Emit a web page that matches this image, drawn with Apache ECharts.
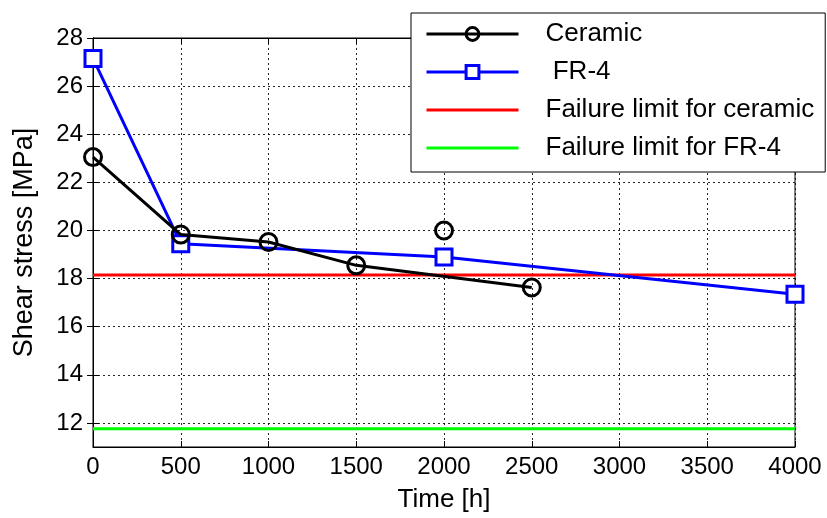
<!DOCTYPE html>
<html><head><meta charset="utf-8">
<script src="https://cdn.jsdelivr.net/npm/echarts@6/dist/echarts.min.js"></script>
<style>html,body{margin:0;padding:0;background:#fff}#c{width:827px;height:518px}</style>
</head><body><div id="c"></div>
<script>
// Data
const ceramicTime = [0, 500, 1000, 1500, 2500];
const ceramicStress = [23.05, 19.83, 19.52, 18.55, 17.63];
const ceramicExtraTime = [2000];
const ceramicExtraStress = [20.0];
const fr4Time = [0, 500, 2000, 4000];
const fr4Stress = [27.15, 19.45, 18.9, 17.35];
const limitTime = [0, 4000];
const ceramicLimit = 18.15;
const fr4Limit = 11.76;
const xTicks = [0, 500, 1000, 1500, 2000, 2500, 3000, 3500, 4000];
const yTicks = [12, 14, 16, 18, 20, 22, 24, 26, 28];

const pairs = (xs, ys) => xs.map((x, i) => [x, ys[i]]);
const FONT = 'Liberation Sans, Arial, sans-serif';
const chart = echarts.init(document.getElementById('c'));
const gridLine = {show: true, lineStyle: {color: '#000', width: 1, type: [2, 3], opacity: 0.85}};
const plain = v => String(v);
const lineIcon = 'path://M0,0H92V3H0Z';
chart.setOption({
  backgroundColor: '#fff',
  animation: false,
  grid: {left: 93, right: 32, top: 38, bottom: 71, show: true, borderColor: '#000', borderWidth: 1, backgroundColor: '#fff'},
  legend: {
    orient: 'vertical', left: 411, top: 13,
    backgroundColor: '#fff', borderColor: '#000', borderWidth: 1,
    padding: [8, 11, 11, 14],
    itemWidth: 92, itemHeight: 16, itemGap: 12,
    textStyle: {fontFamily: FONT, fontSize: 26, color: '#000', lineHeight: 24, padding: [0, 0, 0, 22]},
    data: [
      {name: 'Ceramic', lineStyle: {width: 3}, itemStyle: {borderWidth: 3}},
      {name: ' FR-4', lineStyle: {width: 3}, itemStyle: {borderWidth: 3}},
      {name: 'Failure limit for ceramic', icon: lineIcon},
      {name: 'Failure limit for FR-4', icon: lineIcon}
    ]
  },
  xAxis: [{
    type: 'value', min: 0, max: 4000, interval: 500,
    name: 'Time [h]', nameLocation: 'middle', nameGap: 40,
    nameTextStyle: {fontFamily: FONT, fontSize: 26, color: '#000'},
    axisLine: {show: true, lineStyle: {color: '#000', width: 1}},
    axisTick: {show: true, inside: true, length: 6, lineStyle: {color: '#000'}, customValues: xTicks},
    axisLabel: {fontFamily: FONT, fontSize: 24, color: '#000', margin: 8, customValues: xTicks, formatter: plain},
    splitLine: gridLine
  }, {
    type: 'value', min: 0, max: 4000, interval: 500, position: 'top',
    axisLine: {show: true, lineStyle: {color: '#000'}},
    axisTick: {show: true, inside: true, length: 6, lineStyle: {color: '#000'}},
    axisLabel: {show: false}, splitLine: {show: false}
  }],
  yAxis: [{
    type: 'value', min: 11, max: 28,
    name: 'Shear stress [MPa]', nameLocation: 'middle', nameGap: 55,
    nameTextStyle: {fontFamily: FONT, fontSize: 27, color: '#000'},
    axisLine: {show: true, lineStyle: {color: '#000', width: 1}},
    axisTick: {show: true, inside: true, length: 6, lineStyle: {color: '#000'}, customValues: yTicks},
    axisLabel: {fontFamily: FONT, fontSize: 24, color: '#000', margin: 10, customValues: yTicks, formatter: plain},
    splitLine: gridLine
  }, {
    type: 'value', min: 11, max: 28, position: 'right',
    axisLine: {show: true, lineStyle: {color: '#000'}},
    axisTick: {show: true, inside: true, length: 6, lineStyle: {color: '#000'}, customValues: yTicks},
    axisLabel: {show: false, customValues: yTicks}, splitLine: {show: false}
  }],
  series: [
    {name: 'Failure limit for ceramic', type: 'line', data: limitTime.map(t => [t, ceramicLimit]), symbol: 'none',
     lineStyle: {color: '#ff0000', width: 3}, itemStyle: {color: '#ff0000'}, z: 2},
    {name: 'Failure limit for FR-4', type: 'line', data: limitTime.map(t => [t, fr4Limit]), symbol: 'none',
     lineStyle: {color: '#00ff00', width: 3}, itemStyle: {color: '#00ff00'}, z: 2},
    {name: ' FR-4', type: 'line', data: pairs(fr4Time, fr4Stress), symbol: 'rect', symbolSize: 16,
     lineStyle: {color: '#0000ff', width: 3}, itemStyle: {color: '#fff', borderColor: '#0000ff', borderWidth: 3}, z: 3},
    {name: 'Ceramic', type: 'line', data: pairs(ceramicTime, ceramicStress), symbol: 'circle', symbolSize: 17,
     lineStyle: {color: '#000', width: 3}, itemStyle: {color: 'rgba(255,255,255,0)', borderColor: '#000', borderWidth: 3}, z: 4},
    {name: 'Ceramic extra', type: 'scatter', data: pairs(ceramicExtraTime, ceramicExtraStress), symbol: 'circle', symbolSize: 17,
     itemStyle: {color: 'rgba(255,255,255,0)', borderColor: '#000', borderWidth: 3, opacity: 1}, z: 4}
  ]
});
</script></body></html>
